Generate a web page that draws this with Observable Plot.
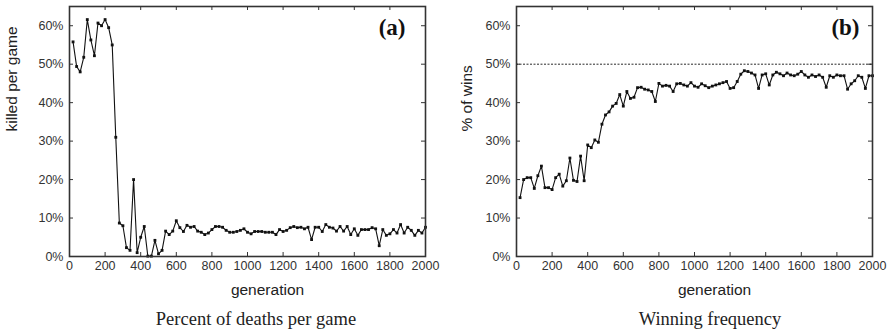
<!DOCTYPE html>
<html>
<head>
<meta charset="utf-8">
<script src="https://cdn.jsdelivr.net/npm/d3@7"></script>
<script src="https://cdn.jsdelivr.net/npm/@observablehq/plot@0.6"></script>
<style>
  html, body { margin: 0; padding: 0; background: #fff; }
  #wrap { position: relative; width: 890px; height: 332px; overflow: hidden; }
  .panel { position: absolute; top: 0; width: 445px; height: 332px; }
  .caption { position: absolute; font-family: "Liberation Serif", "Times New Roman", serif; font-size: 18.5px; line-height: 22px; color: #222; white-space: nowrap; transform: translateX(-50%); top: 308px; }
</style>
</head>
<body>
<div id="wrap">
  <div class="panel" id="pa" style="left:0"></div>
  <div class="panel" id="pb" style="left:445px"></div>
  <div class="caption" style="left:256px">Percent of deaths per game</div>
  <div class="caption" style="left:710px">Winning frequency</div>
</div>
<script>
const generations = [20,40,60,80,100,120,140,160,180,200,220,240,260,280,300,320,340,360,380,400,
  420,440,460,480,500,520,540,560,580,600,620,640,660,680,700,720,740,760,780,800,
  820,840,860,880,900,920,940,960,980,1000,1020,1040,1060,1080,1100,1120,1140,1160,1180,1200,
  1220,1240,1260,1280,1300,1320,1340,1360,1380,1400,1420,1440,1460,1480,1500,1520,1540,1560,1580,1600,
  1620,1640,1660,1680,1700,1720,1740,1760,1780,1800,1820,1840,1860,1880,1900,1920,1940,1960,1980,2000];

const killedPct = [55.8,49.4,48.0,51.8,61.6,56.3,52.2,60.7,60.0,61.6,59.5,55.0,31.0,8.7,8.0,2.3,1.6,20.0,1.0,5.0,
  7.8,0.1,0.1,4.2,0.7,1.6,6.6,5.7,6.6,9.3,7.5,6.5,8.1,7.6,7.8,6.6,6.3,5.7,6.1,7.0,
  7.8,7.8,7.6,6.8,6.3,6.3,6.5,6.8,7.2,6.3,5.9,6.5,6.5,6.5,6.3,6.3,6.3,5.7,7.0,6.5,
  6.8,7.5,7.8,7.5,7.6,7.2,7.6,4.4,7.6,7.6,6.5,8.3,7.6,7.4,6.6,7.8,6.6,7.8,5.7,7.2,
  5.5,7.0,7.0,7.0,7.5,7.2,2.8,7.0,5.5,5.9,7.0,6.1,8.3,6.1,7.6,6.8,5.5,6.8,6.1,7.6];

const winsPct = [15.3,20.0,20.5,20.5,17.7,21.0,23.5,17.9,17.9,17.4,20.5,21.4,18.3,19.7,25.6,19.8,19.5,26.1,19.7,29.0,
  28.3,30.3,29.7,34.4,36.8,37.6,39.1,39.8,42.1,39.1,42.9,41.1,41.4,43.9,44.0,43.5,43.3,42.9,40.3,45.0,
  44.3,44.5,44.3,42.9,44.9,45.0,44.6,44.3,45.2,44.3,44.0,44.9,44.4,43.9,44.3,44.6,44.9,45.2,45.5,43.7,
  43.9,45.5,47.4,48.3,48.1,47.7,47.2,43.7,47.2,47.5,44.6,47.2,47.9,47.5,47.0,47.7,47.2,47.0,47.4,48.1,
  47.2,46.6,47.2,46.8,47.2,46.6,44.0,47.0,46.6,47.2,47.0,47.0,43.5,44.9,45.7,47.0,46.6,43.7,47.0,47.0];

const xTicks = [0,200,400,600,800,1000,1200,1400,1600,1800,2000];
const yTicks = [0,10,20,30,40,50,60];
const yDomain = [0,65];
const xDomain = [0,2000];
const parityLine = [50];

function panel({values, yLabel, tag, marginLeft, marginRight, yLabelOffset, tagDx, ref}) {
  const data = generations.map((g, i) => ({gen: g, v: values[i]}));
  const width = 445, height = 302, marginTop = 6, marginBottom = 46;
  const innerW = width - marginLeft - marginRight;
  const innerH = height - marginTop - marginBottom;
  const ink = "#333";
  const tick = 4;
  const marks = [
    Plot.axisX(xTicks, {tickSize: 0, tickPadding: 5, tickFormat: d => String(d), label: null, fontSize: 12.5, color: ink}),
    Plot.axisY(yTicks, {tickSize: 0, tickPadding: 6, tickFormat: d => d + "%", label: null, fontSize: 12.5, color: ink}),
    // inward ticks on all four sides
    Plot.tickX(xTicks, {x: d => d, insetTop: innerH - tick, stroke: ink}),
    Plot.tickX(xTicks, {x: d => d, insetBottom: innerH - tick, stroke: ink}),
    Plot.tickY(yTicks, {y: d => d, insetRight: innerW - tick, stroke: ink}),
    Plot.tickY(yTicks, {y: d => d, insetLeft: innerW - tick, stroke: ink}),
  ];
  if (ref) marks.push(Plot.ruleY(ref, {y: d => d, stroke: "#111", strokeWidth: 0.9, strokeDasharray: "2,1.5"}));
  marks.push(
    Plot.line(data, {x: "gen", y: "v", stroke: "#111", strokeWidth: 1.1}),
    Plot.dot(data, {x: "gen", y: "v", symbol: "square", r: 1.6, fill: "#111", stroke: "none"}),
    Plot.frame({stroke: ink, strokeWidth: 1.6}),
    Plot.text(["generation"], {frameAnchor: "bottom", text: d => d, dx: 20, dy: 38, fontSize: 15.5, fill: "#222", fontFamily: "Liberation Sans, Arial, sans-serif"}),
    Plot.text([yLabel], {frameAnchor: "left", text: d => d, rotate: -90, dx: -yLabelOffset, dy: 0, fontSize: 15.5, fill: "#222", fontFamily: "Liberation Sans, Arial, sans-serif"}),
    Plot.text([tag], {frameAnchor: "top-right", text: d => d, textAnchor: "end", lineAnchor: "top", dx: tagDx, dy: 12, fontSize: 23, fontWeight: "bold", fill: "#111", fontFamily: "Liberation Serif, Times New Roman, serif"})
  );
  return Plot.plot({
    width, height, marginLeft, marginRight, marginTop, marginBottom,
    style: {fontFamily: "Liberation Sans, Arial, sans-serif", fontSize: "12.5px", color: ink, background: "transparent", overflow: "visible"},
    x: {domain: xDomain},
    y: {domain: yDomain},
    marks
  });
}

document.getElementById("pa").appendChild(panel({values: killedPct, yLabel: "killed per game", tag: "(a)", marginLeft: 69, marginRight: 20, yLabelOffset: 57, tagDx: -20}));
document.getElementById("pb").appendChild(panel({values: winsPct, yLabel: "% of wins", tag: "(b)", marginLeft: 71, marginRight: 18, yLabelOffset: 49, tagDx: -13, ref: parityLine}));
</script>
</body>
</html>
